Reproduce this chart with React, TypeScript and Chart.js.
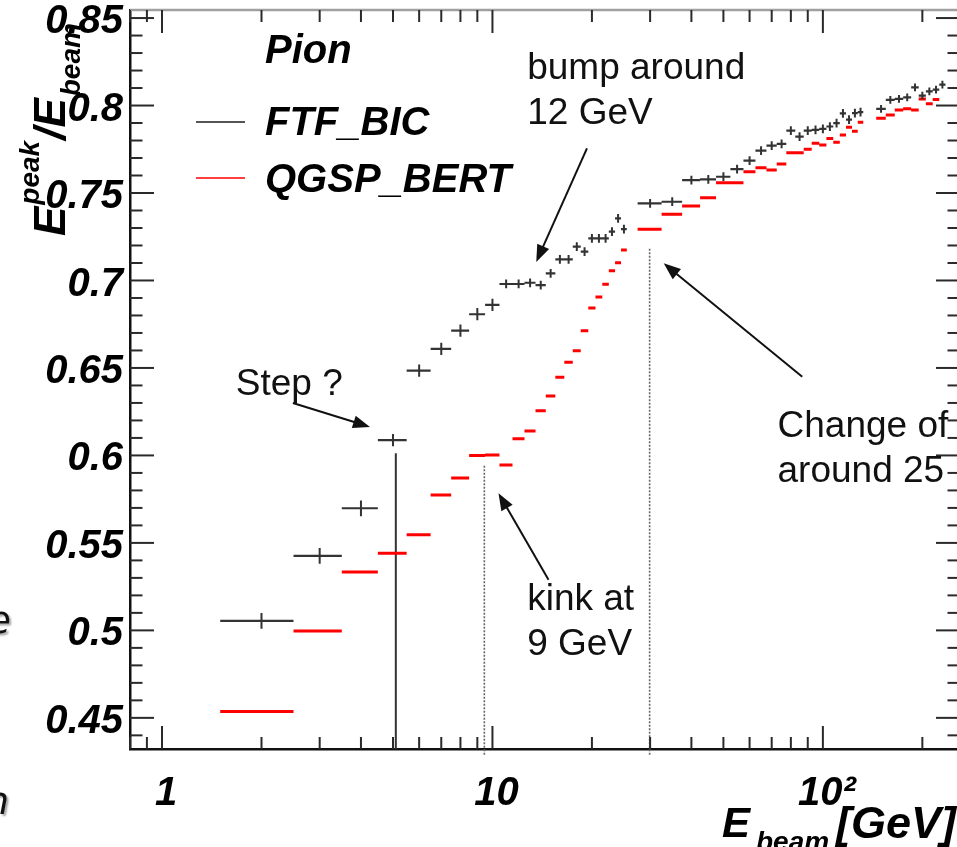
import React, { useEffect, useRef } from 'react';
import { Chart, registerables } from 'chart.js';

Chart.register(...registerables);

// ---------------- data ----------------
const ENERGY = [
  2, 3, 4, 5, 6, 7, 8, 9, 10, 11, 12, 13, 14, 15, 16, 17, 18, 19, 20, 21, 22, 23, 24, 25,
  30, 35, 40, 45, 50, 55, 60, 65, 70, 75, 80, 85, 90, 95, 100, 105, 110, 115, 120, 125, 130,
  150, 160, 170, 180, 190, 200, 210, 220, 230,
];
const HALF_WIDTH = [
  0.5, 0.5, 0.5, 0.5, 0.5, 0.5, 0.5, 0.5, 0.5, 0.5, 0.5, 0.5, 0.5, 0.5, 0.5, 0.5, 0.5, 0.5, 0.5, 0.5, 0.5, 0.5, 0.5, 0.5,
  2.5, 2.5, 2.5, 2.5, 2.5, 2.5, 2.5, 2.5, 2.5, 2.5, 2.5, 2.5, 2.5, 2.5, 2.5, 2.5, 2.5, 2.5, 2.5, 2.5, 2.5,
  5, 5, 5, 5, 5, 5, 5, 5, 5,
];
const FTF_BIC = [
  0.5054, 0.5426, 0.5698, 0.6087, 0.6485, 0.6609, 0.6713, 0.6807, 0.686, 0.698, 0.698, 0.6987,
  0.6974, 0.7041, 0.7121, 0.7121, 0.7193, 0.7165, 0.7241, 0.7241, 0.7241, 0.7279, 0.7355, 0.7293,
  0.7441, 0.745, 0.7574, 0.7578, 0.7593, 0.7637, 0.7685, 0.7742, 0.7771, 0.7781, 0.7856, 0.7822,
  0.7856, 0.7861, 0.7867, 0.788, 0.7899, 0.7955, 0.7919, 0.7956, 0.7962,
  0.7981, 0.8032, 0.8038, 0.8047, 0.8104, 0.8057, 0.8081, 0.8091, 0.812,
];
const FTF_BIC_ERR = [
  0.0045, 0.0045, 0.0045, 0.0035, 0.0035, 0.0035, 0.0035, 0.0035, 0.0035, 0.0025, 0.0025, 0.0025,
  0.0025, 0.0025, 0.0025, 0.0025, 0.0025, 0.0025, 0.0025, 0.0025, 0.0025, 0.0025, 0.0025, 0.0025,
  0.0025, 0.0025, 0.0025, 0.0025, 0.0025, 0.0025, 0.0025, 0.0025, 0.0025, 0.0025, 0.0025, 0.0025,
  0.0025, 0.0025, 0.0025, 0.0025, 0.0025, 0.0025, 0.0025, 0.0025, 0.0025,
  0.0022, 0.0022, 0.0022, 0.0022, 0.0022, 0.0022, 0.0022, 0.0022, 0.0022,
];
const QGSP_BERT = [
  0.4536, 0.4997, 0.5334, 0.5441, 0.5546, 0.5774, 0.5871, 0.5999, 0.6003, 0.5946, 0.6096, 0.614,
  0.6256, 0.634, 0.6447, 0.6533, 0.6599, 0.6713, 0.6843, 0.6906, 0.6978, 0.7056, 0.7102, 0.7174,
  0.7293, 0.7378, 0.7426, 0.7473, 0.7559, 0.7559, 0.7622, 0.7645, 0.7631, 0.7666, 0.773, 0.773,
  0.775, 0.7784, 0.7774, 0.7812, 0.779, 0.7831, 0.7876, 0.7853, 0.7905,
  0.7927, 0.7946, 0.7974, 0.7981, 0.7974, 0.8038, 0.801, 0.8034, null,
];

const X_RANGE = [0.8, 260];
const Y_RANGE = [0.4322, 0.8546];
const X_TICKS = [1, 10, 100];
const X_TICK_LABELS = ['1', '10', '10²'];
const Y_TICKS = [0.45, 0.5, 0.55, 0.6, 0.65, 0.7, 0.75, 0.8, 0.85];
const Y_TICK_LABELS = ['0.45', '0.5', '0.55', '0.6', '0.65', '0.7', '0.75', '0.8', '0.85'];

// vertical marker lines (energy, top, bottom)
const MARKER_X = [5.1, 9.45, 29.9];
const MARKER_TOP = [0.6013, 0.5946, 0.7186];
const MARKER_BOTTOM = [0.4322, 0.4289, 0.4289];
const MARKER_DOTTED = [false, true, true];

// annotations (data coordinates)
const NOTE_TEXT = [['Step ?'], ['bump around', '12 GeV'], ['kink at', '9 GeV'], ['Change of', 'around 25']];
const NOTE_AT = [[1.672, 0.6346], [12.74, 0.8151], [12.74, 0.5117], [72.9, 0.6106]];
const ARROW_FROM = [[2.489, 0.63], [19.32, 0.7755], [14.78, 0.5289], [86.6, 0.645]];
const ARROW_TO = [[4.26, 0.6163], [13.57, 0.7106], [10.43, 0.5784], [32.98, 0.7098]];

const LEGEND_HEADER = 'Pion';

// ---------------- helpers ----------------
const FONT = '"Liberation Sans", Arial, Helvetica, sans-serif';
const CANVAS_W = 980;
const CANVAS_H = 847;

function horizontalSegments(values: (number | null)[]) {
  const pts: any[] = [];
  ENERGY.forEach((e, i) => {
    const v = values[i];
    if (v == null) return;
    pts.push({ x: e - HALF_WIDTH[i], y: v }, { x: e + HALF_WIDTH[i], y: v }, { x: e + HALF_WIDTH[i], y: null });
  });
  return pts;
}

function verticalSegments(values: (number | null)[], errs: number[]) {
  const pts: any[] = [];
  ENERGY.forEach((e, i) => {
    const v = values[i];
    if (v == null) return;
    pts.push({ x: e, y: v - errs[i] }, { x: e, y: v + errs[i] }, { x: e, y: null });
  });
  return pts;
}

function markerSegments(dotted: boolean) {
  const pts: any[] = [];
  MARKER_X.forEach((x, i) => {
    if (MARKER_DOTTED[i] !== dotted) return;
    pts.push({ x, y: MARKER_BOTTOM[i] }, { x, y: MARKER_TOP[i] }, { x, y: null });
  });
  return pts;
}

function seg(ctx: CanvasRenderingContext2D, x1: number, y1: number, x2: number, y2: number) {
  ctx.beginPath();
  ctx.moveTo(x1, y1);
  ctx.lineTo(x2, y2);
  ctx.stroke();
}

function arrow(ctx: CanvasRenderingContext2D, x1: number, y1: number, x2: number, y2: number) {
  const ang = Math.atan2(y2 - y1, x2 - x1);
  const L = 17;
  const W = 6.5;
  const bx = x2 - L * Math.cos(ang);
  const by = y2 - L * Math.sin(ang);
  seg(ctx, x1, y1, bx + 3 * Math.cos(ang), by + 3 * Math.sin(ang));
  ctx.beginPath();
  ctx.moveTo(x2, y2);
  ctx.lineTo(bx + W * Math.sin(ang), by - W * Math.cos(ang));
  ctx.lineTo(bx - W * Math.sin(ang), by + W * Math.cos(ang));
  ctx.closePath();
  ctx.fill();
}

const rootStyle = {
  id: 'rootStyle',
  afterDraw(chart: any) {
    const { ctx, chartArea: a } = chart;
    const xs = chart.scales.x;
    const ys = chart.scales.y;
    ctx.save();

    // frame (top + right)
    ctx.lineWidth = 2.5;
    ctx.strokeStyle = '#a0a0a0';
    seg(ctx, a.left, a.top, a.right, a.top);
    ctx.strokeStyle = '#111';
    seg(ctx, a.right, a.top, a.right, a.bottom);

    // y ticks (inside, both sides)
    ctx.strokeStyle = '#2a2a2a';
    ctx.lineWidth = 2;
    for (let k = 44; k <= 85; k++) {
      const v = k / 100;
      if (v < ys.min || v > ys.max) continue;
      const py = ys.getPixelForValue(v);
      const major = Y_TICKS.some((t) => Math.abs(t - v) < 1e-6);
      const len = major ? 24 : 12.5;
      seg(ctx, a.left, py, a.left + len, py);
      seg(ctx, a.right, py, a.right - len, py);
    }
    // x ticks (log, inside, bottom + top)
    for (let d = -1; d <= 2; d++) {
      for (let m = 1; m <= 9; m++) {
        const v = m * Math.pow(10, d);
        if (v < xs.min || v > xs.max) continue;
        const px = xs.getPixelForValue(v);
        const len = m === 1 ? 23 : 12;
        seg(ctx, px, a.bottom, px, a.bottom - len);
        seg(ctx, px, a.top, px, a.top + len);
      }
    }

    // legend
    const ds = chart.data.datasets;
    ctx.fillStyle = '#000';
    ctx.textAlign = 'left';
    ctx.textBaseline = 'alphabetic';
    ctx.font = `italic bold 40px ${FONT}`;
    ctx.fillText(LEGEND_HEADER, a.left + 135, a.top + 53);
    ctx.strokeStyle = '#555';
    ctx.lineWidth = 2;
    seg(ctx, a.left + 66, a.top + 112, a.left + 115, a.top + 112);
    ctx.fillText(ds[0].label, a.left + 135, a.top + 125);
    ctx.strokeStyle = '#ff0000';
    ctx.lineWidth = 1.6;
    seg(ctx, a.left + 66, a.top + 168, a.left + 115, a.top + 168);
    ctx.fillText(ds[2].label, a.left + 135, a.top + 182);

    // y title (rotated)
    ctx.save();
    ctx.translate(65, 236);
    ctx.rotate(-Math.PI / 2);
    let cx = 0;
    ctx.font = `italic bold 44px ${FONT}`;
    ctx.fillText('E', cx, 0);
    cx += ctx.measureText('E').width + 2;
    ctx.font = `italic bold 28px ${FONT}`;
    ctx.fillText('peak', cx, -26);
    cx += ctx.measureText('peak').width + 1;
    ctx.font = `italic bold 44px ${FONT}`;
    ctx.fillText('/E', cx, 0);
    cx += ctx.measureText('/E').width + 2;
    ctx.font = `italic bold 28px ${FONT}`;
    ctx.fillText('beam', cx, 15);
    ctx.restore();

    // x title
    ctx.font = `italic bold 42px ${FONT}`;
    ctx.fillText('E', 722, 837);
    ctx.font = `italic bold 28px ${FONT}`;
    ctx.fillText('beam', 756, 851);
    ctx.font = `italic bold 45px ${FONT}`;
    ctx.fillText('[GeV]', 836, 838);

    // annotations
    ctx.fillStyle = '#111';
    ctx.strokeStyle = '#111';
    ctx.lineWidth = 2;
    ctx.font = `37px ${FONT}`;
    NOTE_TEXT.forEach((lines, i) => {
      const px = xs.getPixelForValue(NOTE_AT[i][0]);
      const py = ys.getPixelForValue(NOTE_AT[i][1]);
      lines.forEach((t, j) => ctx.fillText(t, px, py + j * 45));
      arrow(
        ctx,
        xs.getPixelForValue(ARROW_FROM[i][0]),
        ys.getPixelForValue(ARROW_FROM[i][1]),
        xs.getPixelForValue(ARROW_TO[i][0]),
        ys.getPixelForValue(ARROW_TO[i][1])
      );
    });

    // remnants of slide text at the left edge
    ctx.save();
    ctx.font = `italic 38px "DejaVu Sans", sans-serif`;
    ctx.textAlign = 'right';
    ctx.shadowColor = 'rgba(0,0,0,0.35)';
    ctx.shadowOffsetX = 2;
    ctx.shadowOffsetY = 2;
    ctx.shadowBlur = 2;
    ctx.fillStyle = '#111';
    ctx.fillText('e', 11, 633);
    ctx.fillText('n', 9, 814);
    ctx.restore();

    ctx.restore();
  },
};

export default function App() {
  const ref = useRef<HTMLCanvasElement | null>(null);

  useEffect(() => {
    if (!ref.current) return;
    const tickFont = { family: FONT, size: 40, style: 'italic' as const, weight: 'bold' as const };
    const chart = new Chart(ref.current, {
      type: 'scatter',
      data: {
        datasets: [
          {
            label: 'FTF_BIC',
            data: horizontalSegments(FTF_BIC),
            showLine: true,
            borderColor: '#333',
            borderWidth: 2.2,
            pointRadius: 0,
            spanGaps: false,
            borderCapStyle: 'butt',
          },
          {
            label: 'FTF_BIC err',
            data: verticalSegments(FTF_BIC, FTF_BIC_ERR),
            showLine: true,
            borderColor: '#333',
            borderWidth: 2,
            pointRadius: 0,
            spanGaps: false,
          },
          {
            label: 'QGSP_BERT',
            data: horizontalSegments(QGSP_BERT),
            showLine: true,
            borderColor: '#ff0000',
            borderWidth: 3,
            pointRadius: 0,
            spanGaps: false,
            borderCapStyle: 'butt',
          },
          {
            label: 'step marker',
            data: markerSegments(false),
            showLine: true,
            borderColor: '#333',
            borderWidth: 2,
            pointRadius: 0,
            spanGaps: false,
            clip: false,
          },
          {
            label: 'kink markers',
            data: markerSegments(true),
            showLine: true,
            borderColor: '#666',
            borderWidth: 1.6,
            borderDash: [2, 1.5],
            pointRadius: 0,
            spanGaps: false,
            clip: false,
          },
        ] as any,
      },
      options: {
        animation: false,
        responsive: false,
        devicePixelRatio: 1,
        events: [],
        layout: { padding: { top: 10, right: CANVAS_W - 960, left: 0, bottom: 0 } },
        plugins: { legend: { display: false }, tooltip: { enabled: false }, title: { display: false } },
        scales: {
          x: {
            type: 'logarithmic',
            min: X_RANGE[0],
            max: X_RANGE[1],
            bounds: 'data',
            grid: { display: false, drawTicks: false },
            border: { display: true, color: '#111', width: 2.5 },
            afterBuildTicks: (scale: any) => {
              scale.ticks = X_TICKS.map((v) => ({ value: v }));
            },
            afterFit: (scale: any) => {
              scale.height = 98;
              scale.paddingLeft = 0;
              scale.paddingRight = 0;
            },
            ticks: {
              autoSkip: false,
              maxRotation: 0,
              minRotation: 0,
              padding: 21,
              labelOffset: 4,
              color: '#000',
              font: tickFont,
              callback: (_v: any, i: number) => X_TICK_LABELS[i],
            },
          },
          y: {
            type: 'linear',
            min: Y_RANGE[0],
            max: Y_RANGE[1],
            bounds: 'data',
            grid: { display: false, drawTicks: false },
            border: { display: true, color: '#111', width: 2.5 },
            afterBuildTicks: (scale: any) => {
              scale.ticks = Y_TICKS.map((v) => ({ value: v }));
            },
            afterFit: (scale: any) => {
              scale.width = 130;
              scale.paddingTop = 0;
              scale.paddingBottom = 0;
            },
            ticks: {
              autoSkip: false,
              padding: 7,
              labelOffset: 4,
              color: '#000',
              font: tickFont,
              callback: (_v: any, i: number) => Y_TICK_LABELS[i],
            },
          },
        },
      } as any,
      plugins: [rootStyle],
    });
    return () => chart.destroy();
  }, []);

  return (
    <div
      style={{
        position: 'fixed',
        left: 0,
        top: 0,
        width: 957,
        height: 847,
        overflow: 'hidden',
        background: '#fff',
      }}
    >
      <canvas ref={ref} width={CANVAS_W} height={CANVAS_H} style={{ display: 'block' }} />
    </div>
  );
}
